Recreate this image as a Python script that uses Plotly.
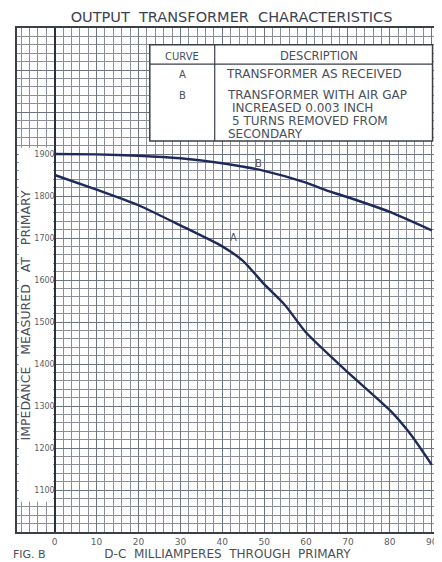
import plotly.graph_objects as go

# ---- data ----
ma_a = [0, 10, 20, 30, 40, 45, 50, 55, 60, 70, 80, 85, 90]
imp_a = [1850, 1815, 1778, 1730, 1680, 1645, 1590, 1540, 1475, 1380, 1290, 1232, 1160]
ma_b = [0, 10, 20, 30, 40, 50, 60, 65, 70, 80, 90]
imp_b = [1900, 1899, 1896, 1890, 1878, 1860, 1832, 1813, 1797, 1762, 1718]
x_ticks = [0, 10, 20, 30, 40, 50, 60, 70, 80, 90]
y_ticks = [1100, 1200, 1300, 1400, 1500, 1600, 1700, 1800, 1900]
curve_ids = ["A", "B"]
desc_a = ["TRANSFORMER AS RECEIVED"]
desc_b = ["TRANSFORMER WITH AIR GAP", "INCREASED 0.003 INCH", "5 TURNS REMOVED FROM", "SECONDARY"]

INK = "#1f2a5c"
GRID = "#6b7280"
TXT = "#4a4f5c"
FONT = "DejaVu Sans"

fig = go.Figure()
fig.add_trace(go.Scatter(x=ma_a, y=imp_a, mode="lines", line=dict(color=INK, width=2.4, shape="spline", smoothing=0.6),
                         showlegend=False, hoverinfo="skip"))
fig.add_trace(go.Scatter(x=ma_b, y=imp_b, mode="lines", line=dict(color=INK, width=2.4, shape="spline", smoothing=0.6),
                         showlegend=False, hoverinfo="skip"))
# invisible trace to activate the inner y axis
fig.add_trace(go.Scatter(x=[0], y=[1500], yaxis="y2", mode="markers", marker=dict(opacity=0),
                         showlegend=False, hoverinfo="skip"))

xr = [-9, 91.5]
yr = [1000, 2200]

fig.update_layout(
    width=434, height=554,
    margin=dict(l=9, r=4, t=20, b=30),
    paper_bgcolor="white", plot_bgcolor="white",
    font=dict(family=FONT, color=TXT),
    title=dict(text="OUTPUT  TRANSFORMER  CHARACTERISTICS", x=0.515, xanchor="center", y=0.984, yanchor="middle",
               font=dict(family=FONT, size=14.5, color="#3c4252")),
    xaxis=dict(range=xr, tickvals=x_ticks, ticks="", tickfont=dict(size=9, color="#5a5f6a"),
               showgrid=True, gridcolor=GRID, gridwidth=1,
               minor=dict(dtick=2, tick0=0, showgrid=True, gridcolor="#8a8f99", gridwidth=0.8),
               zeroline=True, zerolinecolor="#2a3040", zerolinewidth=2,
               showline=True, linecolor="#3a3f4a", linewidth=1.5, mirror=True,
               title=dict(text="D-C  MILLIAMPERES  THROUGH  PRIMARY", standoff=1,
                          font=dict(size=12, color="#4a4f5c")),
               automargin=False, fixedrange=True),
    yaxis=dict(range=yr, dtick=100, tick0=1000, showticklabels=False, ticks="",
               showgrid=True, gridcolor=GRID, gridwidth=1,
               minor=dict(dtick=20, tick0=1000, showgrid=True, gridcolor="#8a8f99", gridwidth=0.8),
               zeroline=False, showline=True, linecolor="#3a3f4a", linewidth=1.5, mirror=True,
               automargin=False, fixedrange=True),
    yaxis2=dict(range=yr, overlaying="y", anchor="free", position=9 / 100.5, side="left",
                tickvals=y_ticks, ticks="", showgrid=False, zeroline=False, showline=False,
                tickfont=dict(size=8, color="#5a5f6a"),
                automargin=False, fixedrange=True),
    shapes=[
        # white label strip on the left of the grid
        dict(type="rect", xref="x", yref="y", x0=-8.6, x1=-0.4, y0=1072, y1=1915,
             fillcolor="white", line=dict(width=0), layer="between"),
        # description table
        dict(type="rect", xref="x", yref="y", x0=22.7, x1=90.2, y0=1931, y1=2160,
             fillcolor="white", line=dict(color="#3a3f4a", width=1.5), layer="between"),
        dict(type="line", xref="x", yref="y", x0=22.7, x1=90.2, y0=2114, y1=2114,
             line=dict(color="#3a3f4a", width=1.2)),
        dict(type="line", xref="x", yref="y", x0=38.2, x1=38.2, y0=1931, y1=2160,
             line=dict(color="#3a3f4a", width=1.2)),
    ],
)

ann = []
# rotated y-axis label inside the white strip
ann.append(dict(x=-6.9, y=1515, xref="x", yref="y", text="IMPEDANCE   MEASURED   AT   PRIMARY",
                textangle=-90, showarrow=False, font=dict(size=12.5, color="#4a4f5c")))
ann.append(dict(x=30.5, y=2133, xref="x", yref="y", text="CURVE", showarrow=False,
                font=dict(size=10, color=TXT)))
ann.append(dict(x=63, y=2133, xref="x", yref="y", text="DESCRIPTION", showarrow=False,
                font=dict(size=11.5, color=TXT)))
ann.append(dict(x=30.5, y=2090, xref="x", yref="y", text=curve_ids[0], showarrow=False,
                font=dict(size=10, color=TXT)))
ann.append(dict(x=40.4, y=2090, xref="x", yref="y", text=desc_a[0], showarrow=False,
                xanchor="left", font=dict(size=12, color=TXT)))
ann.append(dict(x=30.5, y=2040, xref="x", yref="y", text=curve_ids[1], showarrow=False,
                font=dict(size=10, color=TXT)))
line_y = [2040, 2009, 1978, 1947]
line_x = [40.6, 41.8, 41.8, 41.0]
for t, yy, xx in zip(desc_b, line_y, line_x):
    ann.append(dict(x=xx, y=yy, xref="x", yref="y", text=t, showarrow=False,
                    xanchor="left", font=dict(size=12, color=TXT)))
# curve labels
ann.append(dict(x=48.6, y=1877, xref="x", yref="y", text="B", showarrow=False,
                font=dict(size=10, color=TXT)))
ann.append(dict(x=42.6, y=1702, xref="x", yref="y", text="A", showarrow=False,
                font=dict(size=10, color=TXT)))
# figure label
ann.append(dict(x=0.0, y=-0.028, xref="paper", yref="paper", xanchor="left", yanchor="top",
                xshift=-6, text="FIG. B", showarrow=False, font=dict(size=11, color="#4a4f5c")))
fig.update_layout(annotations=ann)

fig.write_html("out.html")
